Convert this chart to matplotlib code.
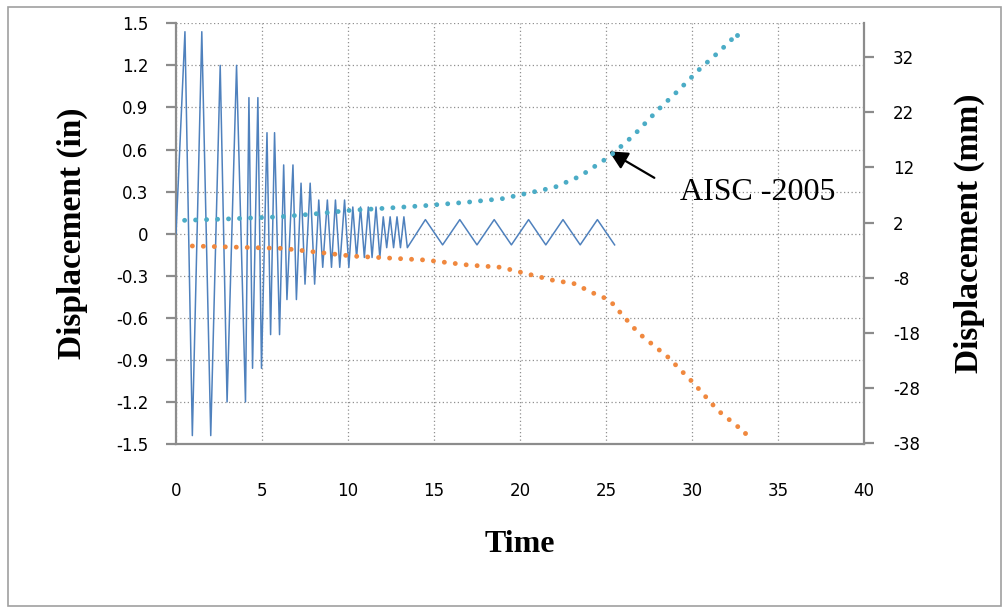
import matplotlib
matplotlib.use('Agg')
import matplotlib.pyplot as plt
from matplotlib.patches import Rectangle

# cyclic displacement history (in)
blue_t = [0, 0.52, 0.95, 1.5, 2.02, 2.57, 2.97, 3.52, 4.04, 4.24, 4.45, 4.76, 4.97,
          5.29, 5.5, 5.73, 6.02, 6.26, 6.45, 6.8, 7.0, 7.27, 7.5, 7.8, 8.06,
          8.3, 8.53, 8.8, 9.04, 9.27, 9.52, 9.8, 10.05,
          10.28, 10.5, 10.73, 10.95, 11.18, 11.4, 11.63, 11.85,
          12.05, 12.25, 12.45, 12.65, 12.85, 13.05, 13.25, 13.45,
          14.5, 15.5, 16.5, 17.5, 18.5, 19.5, 20.5, 21.5, 22.5, 23.5, 24.5, 25.5]
blue_d = [0, 1.44, -1.44, 1.44, -1.44, 1.2, -1.2, 1.2, -1.2, 0.97, -0.96, 0.97, -0.96,
          0.72, -0.72, 0.72, -0.72, 0.49, -0.47, 0.49, -0.47, 0.36, -0.36, 0.36, -0.36,
          0.24, -0.24, 0.24, -0.24, 0.24, -0.24, 0.24, -0.24,
          0.19, -0.17, 0.19, -0.17, 0.19, -0.17, 0.19, -0.17,
          0.12, -0.10, 0.12, -0.10, 0.12, -0.10, 0.12, -0.10,
          0.10, -0.08, 0.10, -0.08, 0.10, -0.08, 0.10, -0.08, 0.10, -0.08, 0.10, -0.08]

# AISC-2005 envelope, positive side
up_t = [0.5, 3, 6, 8, 10, 12, 14.5, 17, 19, 20.5, 22, 23.5, 25.2, 26.6, 28, 29.2, 30.5, 31.6, 32.6]
up_d = [0.095, 0.105, 0.12, 0.14, 0.165, 0.18, 0.2, 0.225, 0.25, 0.29, 0.33, 0.41, 0.55,
        0.70, 0.88, 1.02, 1.18, 1.30, 1.42]

# AISC-2005 envelope, negative side
lo_t = [0.95, 6.2, 10.25, 14.5, 17.0, 18.9, 20.2, 22.0, 23.1, 24.3, 25.2, 26.0, 26.9,
        28.6, 30.1, 31.5, 33.1]
lo_d = [-0.088, -0.105, -0.16, -0.188, -0.224, -0.24, -0.28, -0.335, -0.354, -0.426,
        -0.473, -0.587, -0.71, -0.88, -1.067, -1.26, -1.42]

in_ticks = [1.5, 1.2, 0.9, 0.6, 0.3, 0, -0.3, -0.6, -0.9, -1.2, -1.5]
in_labels = ['1.5', '1.2', '0.9', '0.6', '0.3', '0', '-0.3', '-0.6', '-0.9', '-1.2', '-1.5']
mm_ticks = [32, 22, 12, 2, -8, -18, -28, -38]
t_ticks = [0, 5, 10, 15, 20, 25, 30, 35, 40]

W, H = 1005, 609
fig = plt.figure(figsize=(W / 100, H / 100), dpi=100)
fig.patches.append(Rectangle((8 / W, 1 - 606 / H), 993 / W, 599 / H, transform=fig.transFigure,
                             fill=False, edgecolor='#a0a0a0', lw=1.2))

ax = fig.add_axes([176 / W, 1 - 444 / H, (864 - 176) / W, (444 - 23.3) / H])
ax.set_xlim(0, 40)
ax.set_ylim(-1.5, 1.5)

grey = '#8c8c8c'
ax.grid(True, ls=(0, (1, 2)), color='#909090', lw=0.9)
ax.set_axisbelow(True)
for s in ['top', 'right']:
    ax.spines[s].set_visible(False)
for s in ['left', 'bottom']:
    ax.spines[s].set_color(grey)
    ax.spines[s].set_linewidth(1.6)

ax.plot(blue_t, blue_d, color='#4F81BD', lw=1.1, zorder=3)
# round-dot lines, with a dot forced on the last point
dots = dict(lw=3.5, ls=(0, (0.01, 2.25)), dash_capstyle='round', zorder=4,
            marker='o', markevery=[-1], ms=3.5, mew=0)
ax.plot(up_t, up_d, color='#4BACC6', **dots)
ax.plot(lo_t, lo_d, color='#F0883E', **dots)

tick_font = dict(family='DejaVu Sans', size=12)
ax.set_yticks(in_ticks)
ax.set_yticklabels(in_labels, **tick_font)
ax.set_xticks(t_ticks)
ax.set_xticklabels([str(v) for v in t_ticks], **tick_font)
ax.tick_params(axis='y', length=7, width=1.6, color=grey, pad=13)
ax.tick_params(axis='x', length=0, pad=27)

ax.set_ylabel('Displacement (in)', family='Liberation Serif', fontweight='bold', fontsize=24,
              labelpad=20)
ax.set_xlabel('Time', family='Liberation Serif', fontweight='bold', fontsize=23, labelpad=22)

ax2 = ax.twinx()
ax2.set_ylim(-1.5 * 25.4, 1.5 * 25.4)
ax2.set_yticks(mm_ticks)
ax2.set_yticklabels([str(v) for v in mm_ticks], **tick_font)
ax2.tick_params(axis='y', length=7, width=1.6, color=grey, pad=14)
for s in ['top', 'left', 'bottom']:
    ax2.spines[s].set_visible(False)
ax2.spines['right'].set_color(grey)
ax2.spines['right'].set_linewidth(1.6)
ax2.set_ylabel('Displacement (mm)', family='Liberation Serif', fontweight='bold', fontsize=24,
               labelpad=24)

ax.annotate('', xy=(25.04, 0.597), xytext=(27.95, 0.388),
            arrowprops=dict(arrowstyle='-|>', color='black', lw=1.6, mutation_scale=28))
ax.text(29.3, 0.24, 'AISC -2005', family='Liberation Serif', fontsize=23, va='baseline')

fig.savefig('out.png', dpi=100)
